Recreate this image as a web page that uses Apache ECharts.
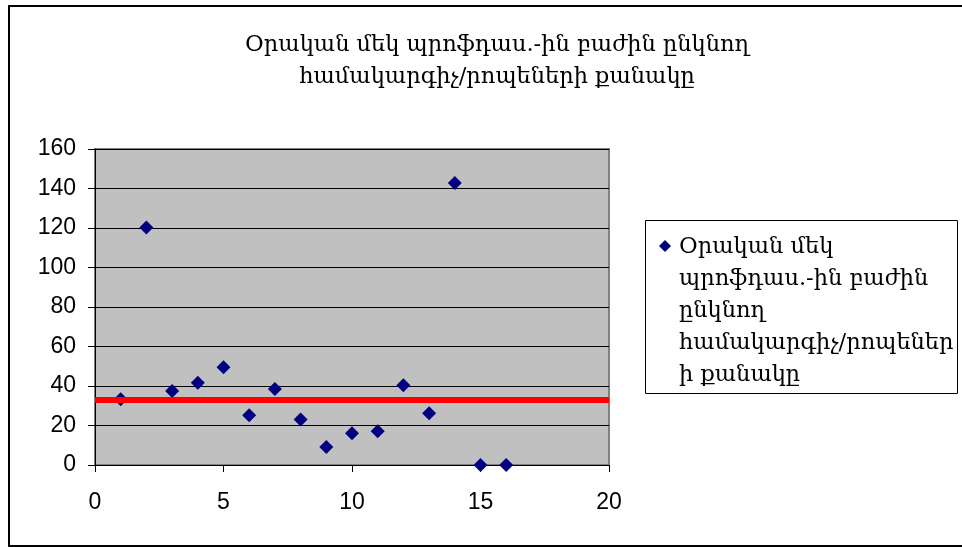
<!DOCTYPE html>
<html>
<head>
<meta charset="utf-8">
<script src="https://cdn.jsdelivr.net/npm/echarts@6/dist/echarts.min.js"></script>
<style>
html,body{margin:0;padding:0;background:#fff;}
#chart{width:962px;height:547px;}
</style>
</head>
<body>
<div id="chart"></div>
<script>
var titleText = 'Օրական մեկ պրոֆդաս.-ին բաժին ընկնող\nհամակարգիչ/րոպեների քանակը';
var seriesName = 'Օրական մեկ պրոֆդաս.-ին բաժին ընկնող համակարգիչ/րոպեների քանակը';
var legendLines = ['Օրական մեկ', 'պրոֆդաս.-ին բաժին', 'ընկնող', 'համակարգիչ/րոպեներ', 'ի քանակը'];
var xValues = [1, 2, 3, 4, 5, 6, 7, 8, 9, 10, 11, 12, 13, 14, 15, 16];
var yValues = [33.3, 120.3, 37.5, 41.6, 49.5, 25.2, 38.5, 23.1, 9.1, 16.1, 17.1, 40.4, 26.2, 142.8, 0, 0];
var refLineValue = 32.8;
var xTicks = [0, 5, 10, 15, 20];
var yTicks = [0, 20, 40, 60, 80, 100, 120, 140, 160];

var points = xValues.map(function (x, i) { return [x, yValues[i]]; });

var chart = echarts.init(document.getElementById('chart'), null, {renderer: 'canvas'});
var serif = "'DejaVu Serif', 'Liberation Serif', serif";
var sans = "'Liberation Sans', Arial, sans-serif";

chart.setOption({
  backgroundColor: '#ffffff',
  animation: false,
  title: {
    text: titleText,
    left: 492,
    top: 24,
    textAlign: 'center',
    textStyle: {fontFamily: serif, fontSize: 22.5, fontWeight: 'normal', color: '#000', lineHeight: 32}
  },
  grid: {
    left: 95, right: 353, top: 149, bottom: 82,
    show: true, backgroundColor: '#C0C0C0', borderColor: '#808080', borderWidth: 2
  },
  xAxis: {
    type: 'value', min: xTicks[0], max: xTicks[xTicks.length - 1], interval: 5,
    axisLine: {show: true, onZero: false, lineStyle: {color: '#000', width: 1}},
    axisTick: {show: true, length: 7, lineStyle: {color: '#000'}},
    splitLine: {show: false},
    axisLabel: {fontFamily: sans, fontSize: 23, color: '#000', margin: 26}
  },
  yAxis: {
    type: 'value', min: yTicks[0], max: yTicks[yTicks.length - 1], interval: 20,
    axisLine: {show: true, lineStyle: {color: '#000', width: 1}},
    axisTick: {show: true, length: 7, lineStyle: {color: '#000'}},
    splitLine: {show: true, lineStyle: {color: '#000', width: 1}},
    axisLabel: {fontFamily: sans, fontSize: 23, color: '#000', margin: 19}
  },
  series: [{
    name: seriesName,
    type: 'scatter',
    symbol: 'diamond',
    symbolSize: 14,
    itemStyle: {color: '#000080', opacity: 1},
    data: points,
    z: 3,
    markLine: {
      silent: true,
      symbol: ['none', 'none'],
      label: {show: false},
      lineStyle: {color: '#FF0000', width: 6, type: 'solid', opacity: 1},
      data: [{yAxis: refLineValue}]
    }
  }],
  graphic: [
    {type: 'rect', shape: {x: 9, y: 6, width: 990, height: 540}, style: {fill: 'none', stroke: '#000', lineWidth: 2}, silent: true},
    {type: 'rect', shape: {x: 645.5, y: 220.5, width: 312, height: 173}, style: {fill: '#fff', stroke: '#000', lineWidth: 1}},
    {type: 'polygon', shape: {points: [[665, 240], [671, 246], [665, 252], [659, 246]]}, style: {fill: '#000080'}},
    {type: 'text', x: 679, y: 231, style: {text: legendLines.join('\n'), font: '22.5px ' + serif, fill: '#000', lineHeight: 32}}
  ]
});
</script>
</body>
</html>
